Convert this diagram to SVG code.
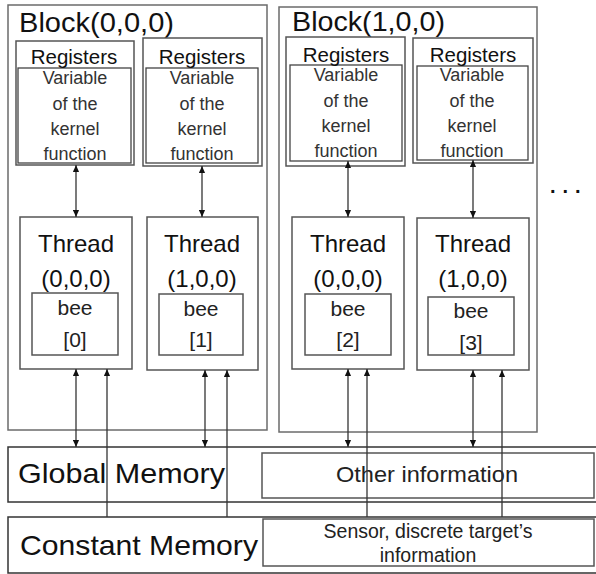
<svg xmlns="http://www.w3.org/2000/svg" width="596" height="574" viewBox="0 0 596 574">
  <style>
    .blk { fill: #fff; stroke: #6b6b6b; stroke-width: 1.5; }
    .box { fill: #fff; stroke: #555; stroke-width: 1.5; }
    .inner { fill: none; stroke: #444; stroke-width: 1.3; }
    .mem { fill: #fff; stroke: #333; stroke-width: 1.5; }
    .conn { stroke: #333; stroke-width: 1.3; fill: none; }
    text { font-family: "Liberation Sans", Arial, sans-serif; fill: #111; }
    .title { font-size: 27px; }
    .reg { font-size: 20.5px; text-anchor: middle; }
    .var { font-size: 18px; text-anchor: middle; fill: #333; }
    .thr { font-size: 24px; text-anchor: middle; }
    .bee { font-size: 21px; text-anchor: middle; fill: #222; }
    .memt { font-size: 28px; }
    .info { text-anchor: middle; fill: #222; }
  </style>
  <defs>
    <marker id="ah" viewBox="0 0 8 8" refX="8" refY="4" markerWidth="7" markerHeight="7" markerUnits="userSpaceOnUse" orient="auto-start-reverse">
      <path d="M0,0.5 L8,4 L0,7.5 Z" fill="#111"/>
    </marker>
  </defs>

  <!-- memory bands -->
  <g id="global-memory">
    <rect class="mem" x="8" y="447" width="600" height="55"/>
    <text class="memt" x="18" y="483" textLength="207" lengthAdjust="spacingAndGlyphs">Global Memory</text>
    <rect class="box" x="262" y="453" width="332" height="45"/>
    <text class="info" x="427" y="482" font-size="22" textLength="182" lengthAdjust="spacingAndGlyphs">Other information</text>
  </g>
  <g id="constant-memory">
    <rect class="mem" x="8" y="517" width="600" height="56"/>
    <text class="memt" x="20" y="555" textLength="238" lengthAdjust="spacingAndGlyphs">Constant Memory</text>
    <rect class="box" x="263" y="519" width="331" height="47"/>
    <text class="info" x="428" y="538" font-size="19.5">Sensor, discrete target’s</text>
    <text class="info" x="428" y="562" font-size="19.5">information</text>
  </g>

  <!-- block 0 -->
  <g id="block0">
    <rect class="blk" x="8" y="5" width="259" height="425"/>
    <text class="title" x="19" y="32" textLength="155" lengthAdjust="spacingAndGlyphs">Block(0,0,0)</text>
  </g>
  <!-- block 1 -->
  <g id="block1">
    <rect class="blk" x="279" y="7" width="258" height="425"/>
    <text class="title" x="292" y="31" textLength="153" lengthAdjust="spacingAndGlyphs">Block(1,0,0)</text>
  </g>

  <!-- registers -->
  <g id="reg0">
    <rect class="box" x="16" y="41" width="118" height="124"/>
    <rect class="inner" x="18" y="68" width="113" height="95"/>
    <text class="reg" x="74" y="64">Registers</text>
    <text class="var" x="75" y="84">Variable</text>
    <text class="var" x="75" y="110">of the</text>
    <text class="var" x="75" y="135">kernel</text>
    <text class="var" x="75" y="160">function</text>
  </g>
  <g id="reg1">
    <rect class="box" x="143" y="38" width="119" height="128"/>
    <rect class="inner" x="146" y="68" width="112" height="95"/>
    <text class="reg" x="202" y="64">Registers</text>
    <text class="var" x="202" y="84">Variable</text>
    <text class="var" x="202" y="110">of the</text>
    <text class="var" x="202" y="135">kernel</text>
    <text class="var" x="202" y="160">function</text>
  </g>
  <g id="reg2">
    <rect class="box" x="286" y="37" width="119" height="129"/>
    <rect class="inner" x="290" y="65" width="112" height="96"/>
    <text class="reg" x="346" y="62">Registers</text>
    <text class="var" x="346" y="81">Variable</text>
    <text class="var" x="346" y="107">of the</text>
    <text class="var" x="346" y="132">kernel</text>
    <text class="var" x="346" y="157">function</text>
  </g>
  <g id="reg3">
    <rect class="box" x="413" y="38" width="120" height="125"/>
    <rect class="inner" x="417" y="66" width="111" height="94"/>
    <text class="reg" x="473" y="62">Registers</text>
    <text class="var" x="472" y="81">Variable</text>
    <text class="var" x="472" y="107">of the</text>
    <text class="var" x="472" y="132">kernel</text>
    <text class="var" x="472" y="157">function</text>
  </g>

  <!-- threads -->
  <g id="thread0">
    <rect class="box" x="20" y="217" width="112" height="152"/>
    <text class="thr" x="76" y="252">Thread</text>
    <text class="thr" x="76" y="287">(0,0,0)</text>
    <rect class="box" x="32" y="293" width="86" height="62"/>
    <text class="bee" x="75" y="315">bee</text>
    <text class="bee" x="75" y="347">[0]</text>
  </g>
  <g id="thread1">
    <rect class="box" x="147" y="217" width="111" height="153"/>
    <text class="thr" x="202" y="252">Thread</text>
    <text class="thr" x="202" y="287">(1,0,0)</text>
    <rect class="box" x="159" y="294" width="84" height="61"/>
    <text class="bee" x="201" y="316">bee</text>
    <text class="bee" x="201" y="347">[1]</text>
  </g>
  <g id="thread2">
    <rect class="box" x="292" y="217" width="112" height="152"/>
    <text class="thr" x="348" y="252">Thread</text>
    <text class="thr" x="348" y="287">(0,0,0)</text>
    <rect class="box" x="305" y="294" width="86" height="61"/>
    <text class="bee" x="348" y="316">bee</text>
    <text class="bee" x="348" y="347">[2]</text>
  </g>
  <g id="thread3">
    <rect class="box" x="417" y="218" width="112" height="152"/>
    <text class="thr" x="473" y="252">Thread</text>
    <text class="thr" x="473" y="287">(1,0,0)</text>
    <rect class="box" x="428" y="297" width="86" height="58"/>
    <text class="bee" x="471" y="318">bee</text>
    <text class="bee" x="471" y="350">[3]</text>
  </g>

  <!-- more blocks -->
  <g id="more">
    <text x="550" y="193" font-size="20" font-weight="bold" letter-spacing="7">...</text>
  </g>

  <!-- connectors -->
  <g id="connectors">
    <!-- registers to threads -->
    <line class="conn" x1="76" y1="165" x2="76" y2="217" marker-start="url(#ah)" marker-end="url(#ah)"/>
    <line class="conn" x1="202" y1="166" x2="202" y2="217" marker-start="url(#ah)" marker-end="url(#ah)"/>
    <line class="conn" x1="348" y1="161" x2="348" y2="217" marker-start="url(#ah)" marker-end="url(#ah)"/>
    <line class="conn" x1="473" y1="160" x2="473" y2="218" marker-start="url(#ah)" marker-end="url(#ah)"/>
    <!-- threads to global memory -->
    <line class="conn" x1="76" y1="369" x2="76" y2="447" marker-start="url(#ah)" marker-end="url(#ah)"/>
    <line class="conn" x1="205" y1="370" x2="205" y2="447" marker-start="url(#ah)" marker-end="url(#ah)"/>
    <line class="conn" x1="348" y1="369" x2="348" y2="447" marker-start="url(#ah)" marker-end="url(#ah)"/>
    <line class="conn" x1="473" y1="370" x2="473" y2="447" marker-start="url(#ah)" marker-end="url(#ah)"/>
    <!-- constant memory to threads -->
    <line class="conn" x1="107" y1="517" x2="107" y2="369" marker-end="url(#ah)"/>
    <line class="conn" x1="227" y1="517" x2="227" y2="370" marker-end="url(#ah)"/>
    <line class="conn" x1="367" y1="517" x2="367" y2="369" marker-end="url(#ah)"/>
    <line class="conn" x1="502" y1="517" x2="502" y2="370" marker-end="url(#ah)"/>
  </g>
</svg>
